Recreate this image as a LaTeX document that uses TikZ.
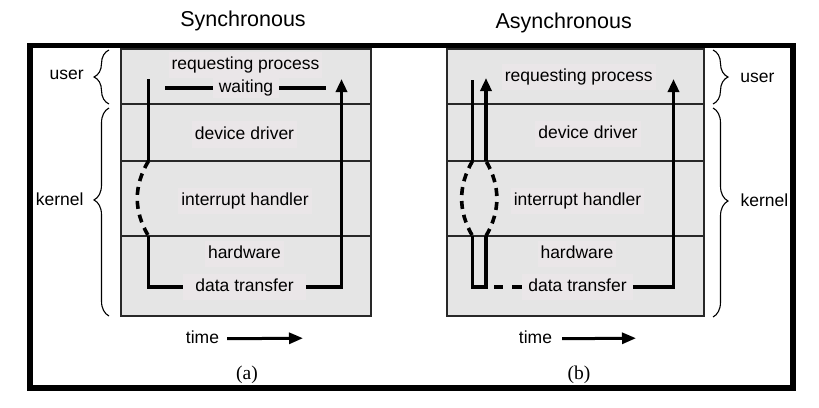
\documentclass[tikz,border=0pt]{standalone}
\usepackage{fontspec}
\setsansfont{Liberation Sans}
\newfontfamily\capfont{Liberation Serif}
\usetikzlibrary{arrows.meta,decorations.pathreplacing}
\definecolor{boxfill}{RGB}{229,229,229}
\definecolor{textbg}{RGB}{234,230,232}
\definecolor{rulecol}{RGB}{40,40,40}
\begin{document}
\begin{tikzpicture}[x=1pt,y=-1pt,
  lbl/.style={font=\sffamily\fontsize{17.5}{20}\selectfont, text height=12.6pt, text depth=3.5pt, inner xsep=3pt, inner ysep=5pt, fill=textbg},
  side/.style={font=\sffamily\fontsize{17.5}{20}\selectfont, text height=12.6pt, text depth=3.5pt, inner sep=0pt},
  ttl/.style={font=\sffamily\fontsize{21.5}{24}\selectfont, anchor=base, inner sep=0pt},
  captxt/.style={font=\capfont\fontsize{19.5}{22}\selectfont, anchor=base, inner sep=0pt},
  flow/.style={line width=3.6pt},
  dflow/.style={line width=3.6pt, dash pattern=on 8pt off 6pt},
  tipend/.style={-{Triangle[length=13pt,width=11pt]}},
  rowline/.style={draw=rulecol, line width=1.3pt},
  brc/.style={decorate, line width=1.1pt},
  tarrow/.style={line width=3pt, -{Triangle[length=14pt,width=11pt]}},
]
\useasboundingbox (0,0) rectangle (819,407);
% frame
\draw[line width=5.5pt] (30,45.5) rectangle (793,388);
% titles
\node[ttl] (tA) at (243,26) {Synchronous};
\node[ttl] (tB) at (563.7,28.3) {Asynchronous};
% ---------- panel (a)
\draw[rowline, fill=boxfill] (121,49) rectangle (371,316);
\draw[rowline] (121,104) -- (371,104);
\draw[rowline] (121,161) -- (371,161);
\draw[rowline] (121,236) -- (371,236);
\node[lbl] (rpA) at (245.5,65) {requesting process};
\node[lbl, inner xsep=6pt, inner ysep=2pt] (waitA) at (246,88) {waiting};
\node[lbl] (ddA) at (244.5,134.5) {device driver};
\node[lbl] (ihA) at (245,201) {interrupt handler};
\node[lbl] (hwA) at (244.5,253.8) {hardware};
\node[lbl, inner xsep=12pt] (dtA) at (244.5,287.2) {data transfer};
\coordinate (a1) at (148.5,79);
\coordinate (a2) at (148.5,161);
\coordinate (a3) at (148.5,236);
\coordinate (a4) at (148.5,287.2);
\coordinate (a5) at (341.5,287.2);
\coordinate (a6) at (341.5,79);
\coordinate (w1) at (165,88);
\coordinate (w2) at (326,88);
\draw[flow] (a1) -- (a2);
\draw[dflow] (a2) .. controls (133.5,186) and (133.5,211) .. (a3);
\draw[flow] (a3) -- (a4) -- (dtA.west);
\draw[flow, tipend] (dtA.east) -- (a5) -- (a6);
\draw[flow] (w1) -- (waitA.west);
\draw[flow] (waitA.east) -- (w2);
\node[side] (timeA) at (202.5,338.8) {time};
\coordinate (ta) at (303,338.2);
\draw[tarrow, shorten <=8pt] (timeA.east) -- (ta);
\node[captxt] (capA) at (247,379.5) {(a)};
\node[side] (userA) at (66.7,75) {user};
\node[side] (kernelA) at (59.7,200.5) {kernel};
\draw[brc, decoration={brace, amplitude=15pt, aspect=0.5}] (109,104) -- (109,50);
\draw[brc, decoration={brace, amplitude=15pt, aspect=0.558}] (109,316) -- (109,108);
% ---------- panel (b)
\draw[rowline, fill=boxfill] (447,49) rectangle (704,316);
\draw[rowline] (447,104) -- (704,104);
\draw[rowline] (447,161) -- (704,161);
\draw[rowline] (447,236) -- (704,236);
\node[lbl] (rpB) at (578.8,76.7) {requesting process};
\node[lbl] (ddB) at (588,133.8) {device driver};
\node[lbl] (ihB) at (577.5,201) {interrupt handler};
\node[lbl] (hwB) at (577,253.8) {hardware};
\node[lbl, inner xsep=6pt] (dtB) at (577.5,287) {data transfer};
\coordinate (b1) at (472.5,80);
\coordinate (b2) at (472.5,161);
\coordinate (b3) at (472.5,236);
\coordinate (b4) at (472.5,287);
\coordinate (b5) at (486,287);
\coordinate (b6) at (486,236);
\coordinate (b7) at (486,161);
\coordinate (b8) at (486,78);
\coordinate (b9) at (673.5,287);
\coordinate (b10) at (673.5,79);
\draw[flow] (b1) -- (b2);
\draw[dflow] (b2) .. controls (458,186) and (458,211) .. (b3);
\draw[flow] (b3) -- (b4) -- (b5) -- (b6);
\draw[dflow] (b6) .. controls (500.5,211) and (500.5,186) .. (b7);
\draw[flow, tipend] (b7) -- (b8);
\draw[flow, dash pattern=on 0pt off 8pt on 9pt off 9pt on 30pt] (b5) -- (dtB.west);
\draw[flow, tipend] (dtB.east) -- (b9) -- (b10);
\node[side] (timeB) at (535.5,338.8) {time};
\coordinate (tb) at (636,338.2);
\draw[tarrow, shorten <=10pt] (timeB.east) -- (tb);
\node[captxt] (capB) at (579,379.5) {(b)};
\node[side] (userB) at (757.5,77.7) {user};
\node[side] (kernelB) at (764.5,202) {kernel};
\draw[brc, decoration={brace, amplitude=15pt, aspect=0.5}] (713,50) -- (713,104);
\draw[brc, decoration={brace, amplitude=15pt, aspect=0.445}] (713,108) -- (713,317);
\end{tikzpicture}
\end{document}
